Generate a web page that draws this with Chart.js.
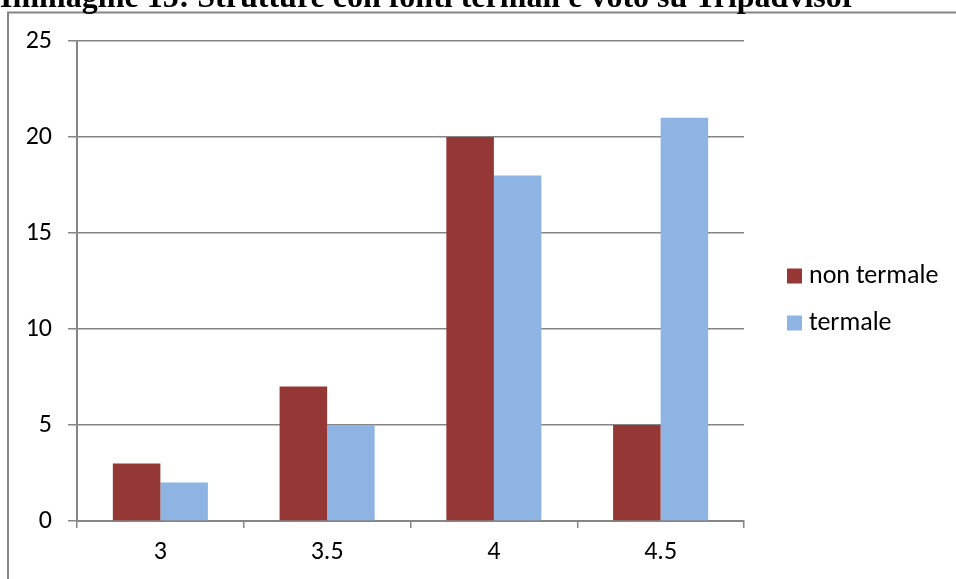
<!DOCTYPE html>
<html><head><meta charset="utf-8">
<script src="https://cdn.jsdelivr.net/npm/chart.js@4"></script>
<style>
html,body{margin:0;padding:0;background:#fff;overflow:hidden}
#wrap{position:relative;width:956px;height:579px;overflow:hidden}
#title{position:absolute;left:0px;top:-20px;font:bold 32px "Liberation Serif","Times New Roman",serif;line-height:32px;white-space:nowrap;color:#000;z-index:2}
canvas{position:absolute;left:0;top:0}
</style></head><body>
<div id="wrap"><canvas id="c" width="956" height="579"></canvas><div id="title">Immagine 15: Strutture con fonti termali e voto su Tripadvisor</div></div>
<script>
// Rating categories on the x axis
const categories = ['3', '3.5', '4', '4.5'];
// Number of structures per rating
const nonTermale = [3, 7, 20, 5];
const termale = [2, 5, 18, 21];
const seriesNames = ['non termale', 'termale'];
const seriesColors = ['#953735', '#8EB4E3'];
const yMin = 0, yMax = 25, yStep = 5;

const FONT = 'Carlito, Lato, "Liberation Sans", sans-serif';
const FONT_SIZE = 26;
const AXIS_GREY = '#868686';

// Outer frame of the chart box
const framePlugin = {
  id: 'frame',
  beforeDraw(chart) {
    const ctx = chart.ctx;
    ctx.save();
    ctx.fillStyle = '#fff';
    ctx.fillRect(0, 0, chart.width, chart.height);
    ctx.strokeStyle = AXIS_GREY;
    ctx.lineWidth = 2;
    ctx.beginPath();
    ctx.moveTo(8, chart.height + 2);
    ctx.lineTo(8, 12.5);
    ctx.lineTo(chart.width + 2, 12.5);
    ctx.stroke();
    ctx.restore();
  }
};

// Legend to the right of the plot, built from the datasets
const sideLegend = {
  id: 'sideLegend',
  afterDraw(chart) {
    const ctx = chart.ctx;
    const x0 = 787, y0 = 276, gap = 47, box = 15;
    ctx.save();
    ctx.font = FONT_SIZE + 'px ' + FONT;
    ctx.textBaseline = 'middle';
    ctx.textAlign = 'left';
    chart.data.datasets.forEach((ds, i) => {
      const cy = y0 + i * gap;
      ctx.fillStyle = ds.backgroundColor;
      ctx.fillRect(x0, cy - box / 2, box, box);
      ctx.fillStyle = '#000';
      ctx.fillText(ds.label, x0 + 22, cy);
    });
    ctx.restore();
  }
};

new Chart(document.getElementById('c'), {
  type: 'bar',
  data: {
    labels: categories,
    datasets: [
      { label: seriesNames[0], data: nonTermale, backgroundColor: seriesColors[0] },
      { label: seriesNames[1], data: termale, backgroundColor: seriesColors[1] }
    ]
  },
  options: {
    responsive: false,
    animation: false,
    devicePixelRatio: 1,
    layout: { padding: { left: 0, top: 41, right: 212, bottom: 0 } },
    datasets: { bar: { categoryPercentage: 0.57, barPercentage: 1.0, borderWidth: 0 } },
    plugins: { legend: { display: false }, tooltip: { enabled: false }, title: { display: false } },
    scales: {
      x: {
        afterFit(s) { s.height = 58; },
        grid: { display: true, drawOnChartArea: false, offset: true, color: AXIS_GREY, lineWidth: 1.5, tickLength: 7 },
        border: { display: true, color: AXIS_GREY, width: 2 },
        ticks: { color: '#000', font: { family: FONT, size: FONT_SIZE }, padding: 9, maxRotation: 0 }
      },
      y: {
        min: yMin, max: yMax,
        afterFit(s) { s.width = 77; },
        grid: { color: AXIS_GREY, lineWidth: 1.5, tickLength: 9 },
        border: { display: true, color: AXIS_GREY, width: 2 },
        ticks: { stepSize: yStep, color: '#000', font: { family: FONT, size: FONT_SIZE }, padding: 16 }
      }
    }
  },
  plugins: [framePlugin, sideLegend]
});
</script>
</body></html>
